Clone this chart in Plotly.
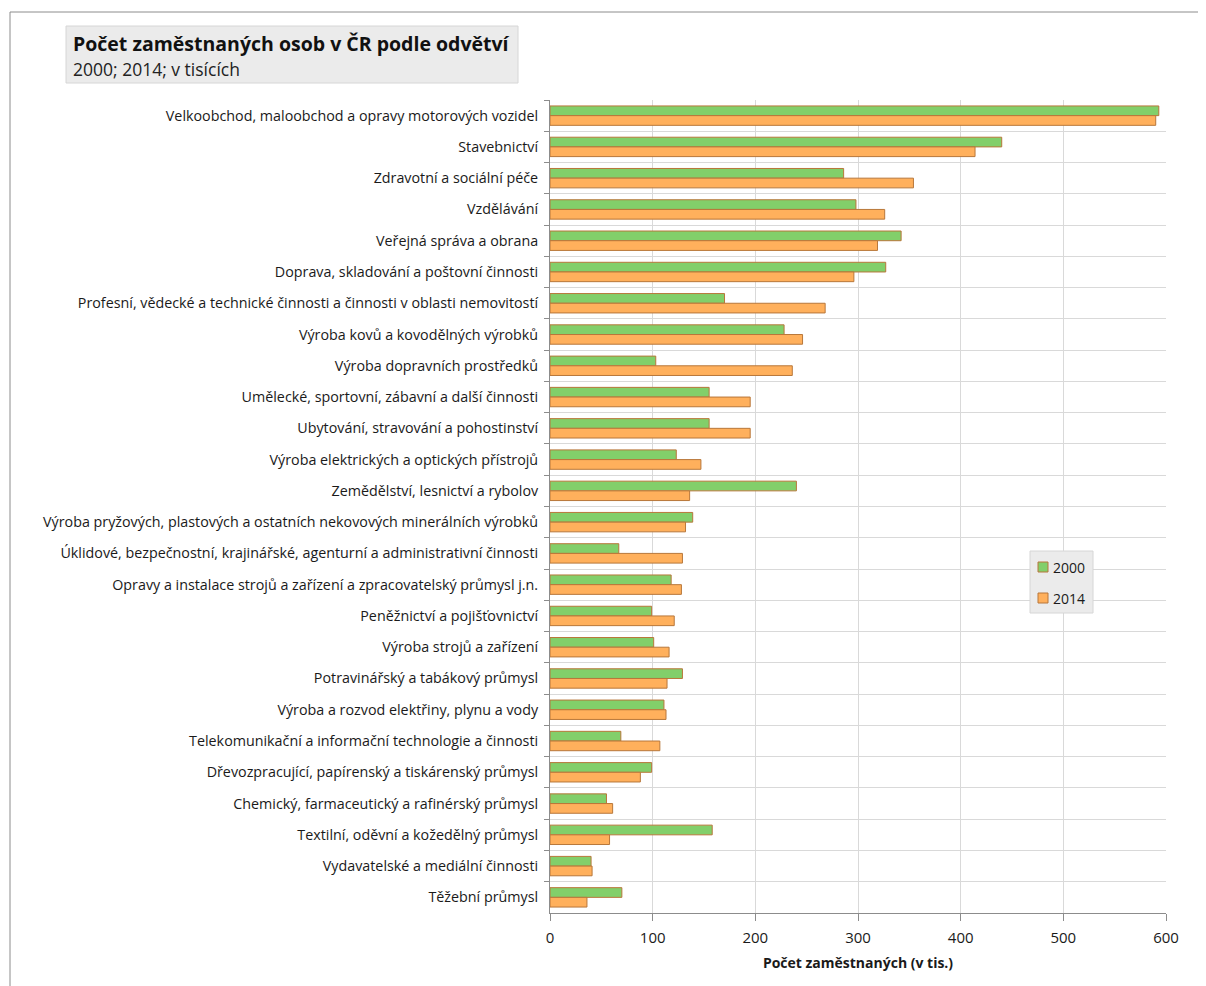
import plotly.graph_objects as go

categories = [
    "Velkoobchod, maloobchod a opravy motorových vozidel",
    "Stavebnictví",
    "Zdravotní a sociální péče",
    "Vzdělávání",
    "Veřejná správa a obrana",
    "Doprava, skladování a poštovní činnosti",
    "Profesní, vědecké a technické činnosti a činnosti v oblasti nemovitostí",
    "Výroba kovů a kovodělných výrobků",
    "Výroba dopravních prostředků",
    "Umělecké, sportovní, zábavní a další činnosti",
    "Ubytování, stravování a pohostinství",
    "Výroba elektrických a optických přístrojů",
    "Zemědělství, lesnictví a rybolov",
    "Výroba pryžových, plastových a ostatních nekovových minerálních výrobků",
    "Úklidové, bezpečnostní, krajinářské, agenturní a administrativní činnosti",
    "Opravy a instalace strojů a zařízení a zpracovatelský průmysl j.n.",
    "Peněžnictví a pojišťovnictví",
    "Výroba strojů a zařízení",
    "Potravinářský a tabákový průmysl",
    "Výroba a rozvod elektřiny, plynu a vody",
    "Telekomunikační a informační technologie a činnosti",
    "Dřevozpracující, papírenský a tiskárenský průmysl",
    "Chemický, farmaceutický a rafinérský průmysl",
    "Textilní, oděvní a kožedělný průmysl",
    "Vydavatelské a mediální činnosti",
    "Těžební průmysl",
]

values_2000 = [593, 440, 286, 298, 342, 327, 170, 228, 103, 155, 155, 123, 240, 139,
               67, 118, 99, 101, 129, 111, 69, 99, 55, 158, 40, 70]
values_2014 = [590, 414, 354, 326, 319, 296, 268, 246, 236, 195, 195, 147, 136, 132,
               129, 128, 121, 116, 114, 113, 107, 88, 61, 58, 41, 36]

series_names = ["2000", "2014"]
series_colors = ["#82cf6a", "#ffb05c"]
outline = "#b8773a"

x_ticks = [0, 100, 200, 300, 400, 500, 600]

title = "Počet zaměstnaných osob v ČR podle odvětví"
subtitle = "2000; 2014; v tisících"
x_title = "Počet zaměstnaných (v tis.)"

FONT = "Open Sans"
OFF = 8  # page body margin
W, H = 1198, 978
# plot area in reference (screen) pixels
L, R, T, B = 550, 1166, 100, 913


def px(x):
    return (x - L) / (R - L)


def py(y):
    return (B - y) / (B - T)


fig = go.Figure()
for name, vals, col in zip(series_names, [values_2000, values_2014], series_colors):
    fig.add_trace(go.Bar(
        y=categories, x=vals, name=name, orientation="h",
        marker=dict(color=col, line=dict(color=outline, width=1)),
        showlegend=False,
    ))

fig.update_layout(
    width=W, height=H,
    margin=dict(l=L - OFF, r=W - (R - OFF), t=T - OFF, b=H - (B - OFF), autoexpand=False),
    paper_bgcolor="white", plot_bgcolor="white",
    barmode="group", bargap=0.38, bargroupgap=0.0,
    font=dict(family=FONT, size=14, color="#1a1a1a"),
    showlegend=False,
    xaxis=dict(
        range=[0, 600], tickvals=x_ticks, ticktext=[str(v) for v in x_ticks],
        showgrid=True, gridcolor="#d9d9d9", gridwidth=1,
        showline=True, linecolor="#8c8c8c", linewidth=1,
        ticks="outside", ticklen=7, tickcolor="#8c8c8c",
        zeroline=False, fixedrange=True, ticklabelstandoff=4,
        title=dict(text="<b>" + x_title + "</b>", font=dict(family=FONT, size=14, color="#1a1a1a"), standoff=12),
        tickfont=dict(family=FONT, size=15, color="#1a1a1a"),
    ),
    yaxis=dict(
        type="category", autorange="reversed", tickson="boundaries",
        showgrid=True, gridcolor="#d9d9d9", gridwidth=1,
        showline=True, linecolor="#8c8c8c", linewidth=1,
        ticks="outside", ticklen=5, tickcolor="#8c8c8c",
        tickfont=dict(family=FONT, size=14.3, color="#1a1a1a"),
        ticklabelstandoff=8,
    ),
)

# outer frame
fig.add_shape(type="rect", xref="paper", yref="paper",
              x0=px(10), x1=px(1215), y0=py(995), y1=py(12),
              line=dict(color="#8c8c8c", width=1), fillcolor="rgba(0,0,0,0)", layer="below")
# title box
fig.add_shape(type="rect", xref="paper", yref="paper",
              x0=px(66), x1=px(518), y0=py(83), y1=py(26),
              line=dict(color="#d6d6d6", width=1), fillcolor="#ebebeb", layer="below")
fig.add_annotation(xref="paper", yref="paper", x=px(71), y=py(43), xanchor="left", yanchor="middle",
                   text="<b>" + title + "</b>", showarrow=False,
                   font=dict(family=FONT, size=19.5, color="#111111"))
fig.add_annotation(xref="paper", yref="paper", x=px(71), y=py(69), xanchor="left", yanchor="middle",
                   text=subtitle, showarrow=False,
                   font=dict(family=FONT, size=17.5, color="#222222"))

# legend box (drawn manually to match compact layout)
fig.add_shape(type="rect", xref="paper", yref="paper",
              x0=px(1030), x1=px(1093), y0=py(613), y1=py(551),
              line=dict(color="#d6d6d6", width=1), fillcolor="#ebebeb", layer="above")
for i, (name, col) in enumerate(zip(series_names, series_colors)):
    cy = 567 + 31 * i
    fig.add_shape(type="rect", xref="paper", yref="paper",
                  x0=px(1038), x1=px(1048), y0=py(cy + 5), y1=py(cy - 5),
                  line=dict(color=outline, width=1), fillcolor=col, layer="above")
    fig.add_annotation(xref="paper", yref="paper", x=px(1051), y=py(cy), xanchor="left", yanchor="middle",
                       text=name, showarrow=False,
                       font=dict(family=FONT, size=14, color="#1a1a1a"))

fig.write_html("out.html")
